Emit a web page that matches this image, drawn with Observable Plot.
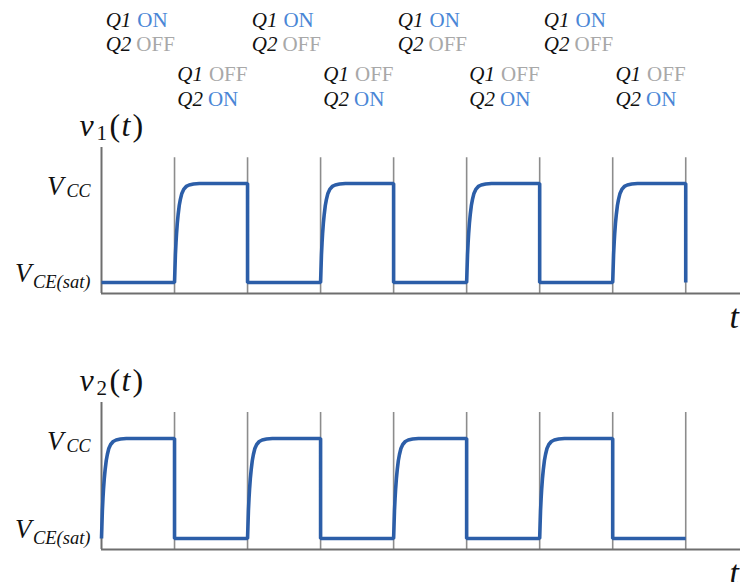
<!DOCTYPE html>
<html>
<head>
<meta charset="utf-8">
<script src="https://cdn.jsdelivr.net/npm/d3@7"></script>
<script src="https://cdn.jsdelivr.net/npm/@observablehq/plot@0.6"></script>
<style>
  html, body { margin: 0; padding: 0; background: #fff; }
  #chart svg { display: block; }
</style>
</head>
<body>
<div id="chart"></div>
<script>
// ---- data (time in half-periods, level 0 = VCE(sat), 1 = VCC) ----
const halfPeriodEdges = [1, 2, 3, 4, 5, 6, 7, 8];
const v1Levels = [0, 1, 0, 1, 0, 1, 0, 1];
const v2Levels = [1, 0, 1, 0, 1, 0, 1, 0];
const riseOffsets   = [0, 0.005, 0.012, 0.02, 0.028, 0.038, 0.05, 0.065, 0.08, 0.1, 0.125, 0.16, 0.2, 0.26, 0.34];
const riseFractions = [0, 0.12, 0.28, 0.4, 0.5, 0.6, 0.69, 0.78, 0.84, 0.9, 0.94, 0.97, 0.985, 0.995, 1];
const q1OnHalves  = [0, 2, 4, 6];
const q1OffHalves = [1, 3, 5, 7];
const levelValues = [1, 0];
const levelMain = ["V", "V"];
const levelSub = ["CC", "CE(sat)"];

const SERIF = "Liberation Serif";
const BLUE = "#2c5ea8";
const ON_BLUE = "#4a86d6";
const OFF_GRAY = "#a8a8a8";
const AXIS = "#6e6e6e";
const GRID = "#8c8c8c";
const INK = "#111";

function wave(levels) {
  const pts = [];
  levels.forEach((s, i) => {
    const prev = i === 0 ? 0 : levels[i - 1];
    if (s === 1 && prev === 0) {
      riseOffsets.forEach((o, k) => pts.push({t: i + o, v: riseFractions[k]}));
    } else {
      pts.push({t: i, v: s});
    }
    pts.push({t: i + 1, v: s});
  });
  if (levels[levels.length - 1] === 1) pts.push({t: levels.length, v: 0});
  return pts;
}

const levelRows = levelValues.map((v, i) => ({v, main: levelMain[i], sub: levelSub[i]}));
const highRow = levelRows.filter(d => d.v === 1);
const lowRow = levelRows.filter(d => d.v === 0);

function panel({levels, name, height, marginTop, marginBottom, yDomain, extra = []}) {
  const lo = yDomain[0], hi = yDomain[1];
  const T = {fontFamily: SERIF, fill: INK, lineAnchor: "middle"};
  return Plot.plot({
    width: 740,
    height,
    marginLeft: 101,
    marginRight: 0,
    marginTop,
    marginBottom,
    x: {domain: [0, 8.75], axis: null},
    y: {domain: yDomain, axis: null},
    marks: [
      Plot.ruleX(halfPeriodEdges, {x: d => d, y1: lo, y2: 1.26, stroke: GRID, strokeWidth: 1.6}),
      Plot.ruleX([0], {y1: lo, y2: hi, stroke: AXIS, strokeWidth: 2}),
      Plot.ruleY([lo], {x1: 0, x2: 8.75, stroke: AXIS, strokeWidth: 2}),
      Plot.line(wave(levels), {x: "t", y: "v", stroke: BLUE, strokeWidth: 3.6, strokeLinejoin: "miter", strokeLinecap: "butt"}),
      // level labels
      Plot.text(highRow, {...T, x: 0, y: "v", text: "main", textAnchor: "end", fontStyle: "italic", fontSize: 27, dx: -38, dy: 3}),
      Plot.text(highRow, {...T, x: 0, y: "v", text: "sub", textAnchor: "end", fontStyle: "italic", fontSize: 18, dx: -11, dy: 8}),
      Plot.text(lowRow, {...T, x: 0, y: "v", text: "main", textAnchor: "end", fontStyle: "italic", fontSize: 27, dx: -70, dy: -9}),
      Plot.text(lowRow, {...T, x: 0, y: "v", text: "sub", textAnchor: "end", fontStyle: "italic", fontSize: 18.5, dx: -11, dy: 0}),
      // panel title v_n(t)
      Plot.text(["v"], {...T, x: 0, frameAnchor: "top", textAnchor: "start", dx: -22, dy: -22, fontStyle: "italic", fontSize: 32}),
      Plot.text([name], {...T, x: 0, frameAnchor: "top", textAnchor: "start", dx: -5, dy: -14, fontSize: 21}),
      Plot.text(["("], {...T, x: 0, frameAnchor: "top", textAnchor: "start", dx: 8, dy: -22, fontSize: 32}),
      Plot.text(["t"], {...T, x: 0, frameAnchor: "top", textAnchor: "start", dx: 20, dy: -22, fontStyle: "italic", fontSize: 32}),
      Plot.text([")"], {...T, x: 0, frameAnchor: "top", textAnchor: "start", dx: 31, dy: -22, fontSize: 32}),
      // time axis label
      Plot.text(["t"], {...T, x: 8.75, y: lo, textAnchor: "start", dx: -11, dy: 24, fontStyle: "italic", fontSize: 34}),
      ...extra
    ]
  });
}

function stateLabels(halves, offset, dy1, dy2, firstOn) {
  const x = d => d + offset;
  const common = {x, frameAnchor: "top", lineAnchor: "middle", fontFamily: SERIF, fontSize: 21};
  return [
    Plot.text(halves, {...common, text: () => "Q1", textAnchor: "end", dx: -3, dy: dy1, fontStyle: "italic", fill: INK}),
    Plot.text(halves, {...common, text: () => firstOn ? "ON" : "OFF", textAnchor: "start", dx: 3, dy: dy1, fill: firstOn ? ON_BLUE : OFF_GRAY}),
    Plot.text(halves, {...common, text: () => "Q2", textAnchor: "end", dx: -3, dy: dy2, fontStyle: "italic", fill: INK}),
    Plot.text(halves, {...common, text: () => firstOn ? "OFF" : "ON", textAnchor: "start", dx: 2, dy: dy2, fill: firstOn ? OFF_GRAY : ON_BLUE})
  ];
}

const topPanel = panel({
  levels: v1Levels, name: "1", height: 330, marginTop: 147, marginBottom: 37, yDomain: [-0.1111, 1.3636],
  extra: [
    ...stateLabels(q1OnHalves, 0.45, -127, -103, true),
    ...stateLabels(q1OffHalves, 0.43, -73, -48, false)
  ]
});
const bottomPanel = panel({
  levels: v2Levels, name: "2", height: 252, marginTop: 72, marginBottom: 33, yDomain: [-0.11, 1.36]
});
const el = document.getElementById("chart");
el.append(topPanel, bottomPanel);
</script>
</body>
</html>
